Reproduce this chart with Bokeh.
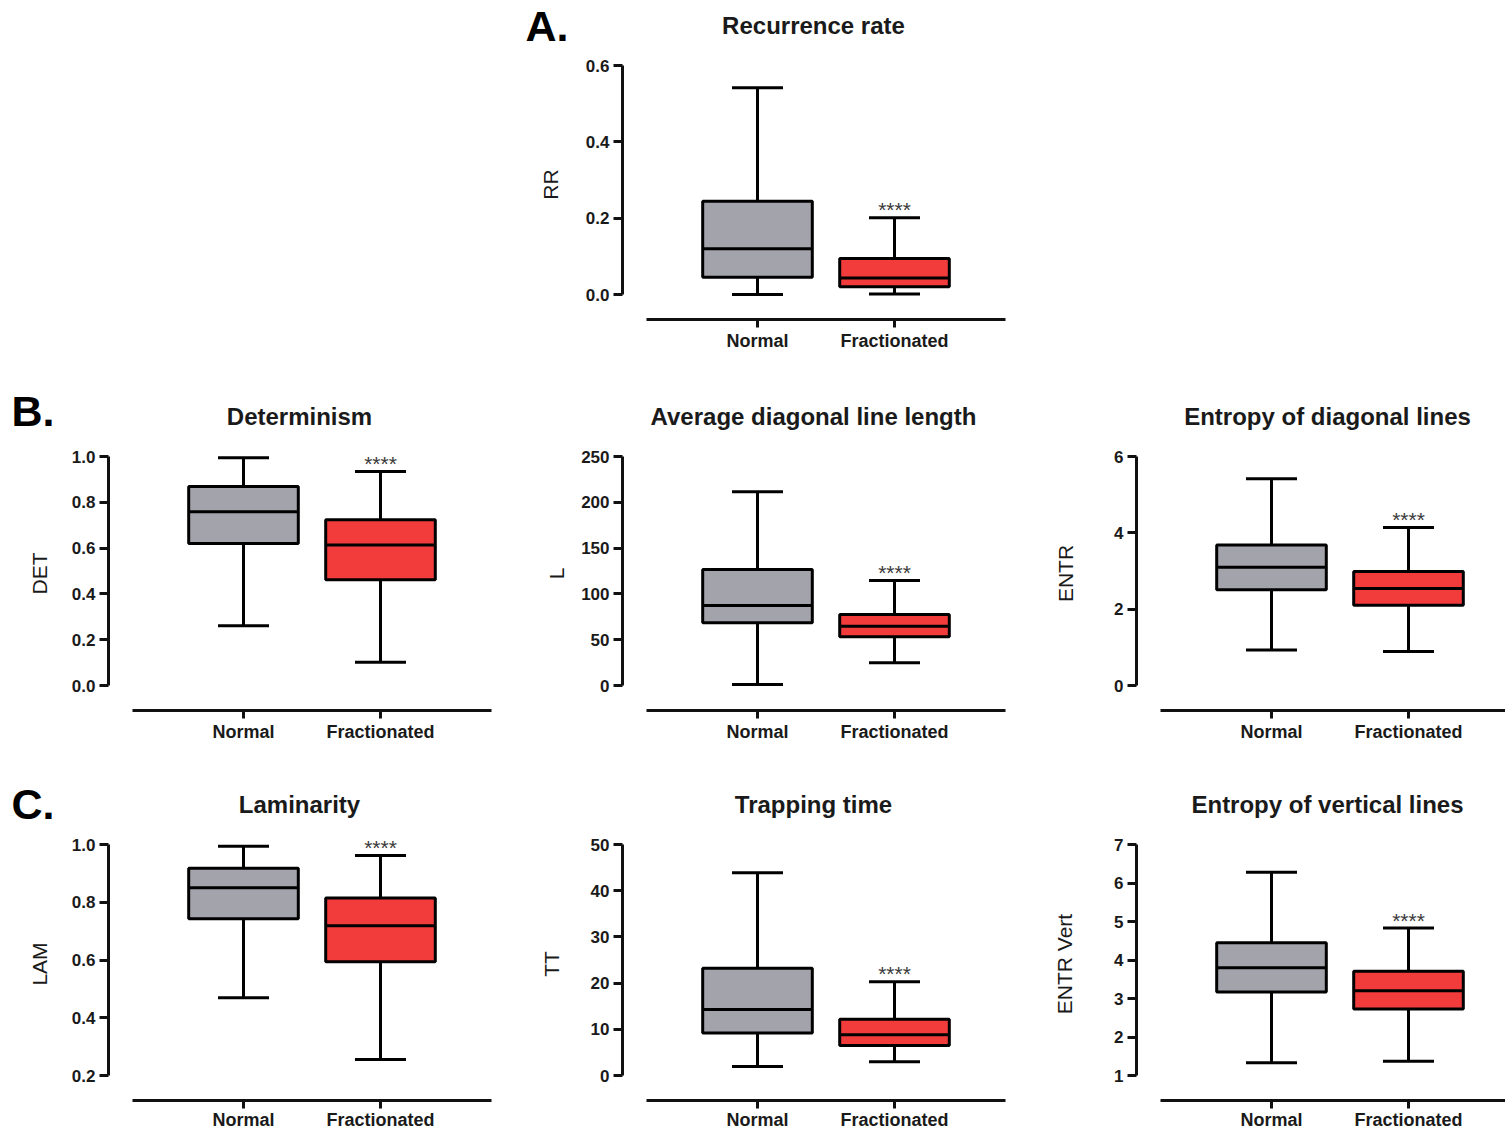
from bokeh.plotting import figure
from bokeh.models import (ColumnDataSource, Range1d, FixedTicker, PrintfTickFormatter,
                          Whisker, TeeHead, Spacer)
from bokeh.layouts import row, column
from bokeh.transform import dodge
from bokeh.core.properties import value
from bokeh.embed import file_html
from bokeh.resources import INLINE

# ---------------- data ----------------
CATEGORIES = ["Normal", "Fractionated"]
SIGNIFICANCE = ["", "****"]
BOX_COLORS = ["#a3a3ab", "#f23c3c"]

# five-number summaries: [min, Q1, median, Q3, max]
RR_NORMAL = [0.000, 0.045, 0.120, 0.244, 0.542]
RR_FRACT = [0.001, 0.020, 0.043, 0.094, 0.201]
RR_TICKS = [0.0, 0.2, 0.4, 0.6]

DET_NORMAL = [0.261, 0.620, 0.759, 0.869, 0.994]
DET_FRACT = [0.102, 0.462, 0.614, 0.724, 0.934]
DET_TICKS = [0.0, 0.2, 0.4, 0.6, 0.8, 1.0]

L_NORMAL = [1.1, 68.4, 87.3, 126.6, 211.5]
L_FRACT = [24.8, 53.2, 64.8, 77.5, 114.6]
L_TICKS = [0, 50, 100, 150, 200, 250]

ENTR_NORMAL = [0.93, 2.51, 3.10, 3.68, 5.42]
ENTR_FRACT = [0.89, 2.10, 2.54, 2.99, 4.14]
ENTR_TICKS = [0, 2, 4, 6]

LAM_NORMAL = [0.469, 0.743, 0.850, 0.918, 0.994]
LAM_FRACT = [0.255, 0.594, 0.719, 0.815, 0.962]
LAM_TICKS = [0.2, 0.4, 0.6, 0.8, 1.0]

TT_NORMAL = [1.95, 9.2, 14.3, 23.2, 43.9]
TT_FRACT = [3.0, 6.5, 8.8, 12.2, 20.3]
TT_TICKS = [0, 10, 20, 30, 40, 50]

ENTRV_NORMAL = [1.33, 3.17, 3.80, 4.45, 6.28]
ENTRV_FRACT = [1.37, 2.73, 3.20, 3.71, 4.83]
ENTRV_TICKS = [1, 2, 3, 4, 5, 6, 7]

PANEL_LETTERS = ["A.", "B.", "C."]
TITLES_A = ["Recurrence rate"]
TITLES_B = ["Determinism", "Average diagonal line length", "Entropy of diagonal lines"]
TITLES_C = ["Laminarity", "Trapping time", "Entropy of vertical lines"]

# ---------------- layout / style ----------------
FONT = "Liberation Sans"
INK = "#1a1a1a"
PX_PER_CAT = 137.0
CAT0_PX = 135.0
XLINE_START_PX = 24.0
XLINE_END_PX = 383.0
LEFT_BORDER = 101
W1, W3 = 514, 470
HEADER_W = 2 * W1 + W3
TITLE_X_IN_COL = 292
LETTER_X_IN_COL = 4


def header(height, titles, first_col, title_y, letter, letter_y):
    h = figure(width=HEADER_W, height=height, x_range=Range1d(0, HEADER_W),
               y_range=Range1d(height, 0), output_backend="svg",
               toolbar_location=None, x_axis_location=None, y_axis_location=None,
               min_border=0, min_border_left=0, min_border_right=0,
               min_border_top=0, min_border_bottom=0)
    h.outline_line_color = None
    h.grid.visible = False
    h.background_fill_color = "white"
    h.border_fill_color = "white"
    xs = [(first_col + i) * W1 + TITLE_X_IN_COL for i in range(len(titles))]
    h.text(x=xs, y=[title_y] * len(titles), text=titles, text_align="center",
           text_baseline="middle", text_font=value(FONT), text_font_size="24px",
           text_font_style="bold", text_color=INK)
    h.text(x=[first_col * W1 + LETTER_X_IN_COL], y=[letter_y],
           text=[letter], text_align="left",
           text_baseline="middle", text_font=value(FONT), text_font_size="43px",
           text_font_style="bold", text_color="black")
    return h


def make_panel(ylabel, normal, fract, ticks, fmt, width, height, top,
               span_px, above_px, below_px, label_standoff, xlabel_standoff=3):
    frame_w = min(383, width - LEFT_BORDER)
    frame_h = int(span_px + above_px + below_px)
    lo, hi = ticks[0], ticks[-1]
    upp = (hi - lo) / span_px
    x_range = Range1d(-CAT0_PX / PX_PER_CAT, (frame_w - CAT0_PX) / PX_PER_CAT)
    y_range = Range1d(lo - below_px * upp, hi + above_px * upp)

    p = figure(width=width, height=height, x_range=x_range, y_range=y_range,
               output_backend="svg", toolbar_location=None,
               min_border_left=LEFT_BORDER,
               min_border_right=width - LEFT_BORDER - frame_w,
               min_border_top=top,
               min_border_bottom=height - top - frame_h)
    p.outline_line_color = None
    p.xgrid.visible = False
    p.ygrid.visible = False
    p.background_fill_color = "white"
    p.border_fill_color = "white"

    src = ColumnDataSource(dict(
        x=list(range(len(CATEGORIES))),
        lo=[normal[0], fract[0]],
        q1=[normal[1], fract[1]],
        med=[normal[2], fract[2]],
        q3=[normal[3], fract[3]],
        hi=[normal[4], fract[4]],
        color=BOX_COLORS,
        sig=SIGNIFICANCE,
    ))

    whisk = Whisker(source=src, base="x", lower="lo", upper="hi", dimension="height",
                    line_width=3, line_color="black", level="underlay",
                    upper_head=TeeHead(size=51, line_width=3, line_color="black"),
                    lower_head=TeeHead(size=51, line_width=3, line_color="black"))
    p.add_layout(whisk)

    p.vbar(x="x", width=0.8, bottom="q1", top="q3", source=src,
           fill_color="color", line_color="black", line_width=3)
    p.segment(x0=dodge("x", -0.4), y0="med", x1=dodge("x", 0.4), y1="med",
              source=src, line_color="black", line_width=3)
    p.text(x="x", y="hi", text="sig", source=src, y_offset=-8,
           text_align="center", text_baseline="alphabetic",
           text_font=value(FONT), text_font_size="21px", text_color="#3a3a3a")

    # y axis
    ya = p.yaxis[0]
    ya.ticker = FixedTicker(ticks=ticks)
    ya.formatter = PrintfTickFormatter(format=fmt)
    ya.bounds = (lo, hi)
    ya.axis_line_width = 3
    ya.axis_line_color = "#111111"
    ya.major_tick_line_width = 3
    ya.major_tick_line_color = "#111111"
    ya.major_tick_out = 9
    ya.major_tick_in = 0
    ya.minor_tick_line_color = None
    ya.major_label_text_font = FONT
    ya.major_label_text_font_size = "17px"
    ya.major_label_text_font_style = "bold"
    ya.major_label_text_color = INK
    ya.major_label_standoff = 4
    ya.axis_label = ylabel
    ya.axis_label_text_font = FONT
    ya.axis_label_text_font_size = "21px"
    ya.axis_label_text_font_style = "normal"
    ya.axis_label_text_color = INK
    ya.axis_label_standoff = label_standoff

    # x axis
    xa = p.xaxis[0]
    xa.ticker = FixedTicker(ticks=list(range(len(CATEGORIES))))
    xa.major_label_overrides = {i: c for i, c in enumerate(CATEGORIES)}
    xa.bounds = ((XLINE_START_PX - CAT0_PX) / PX_PER_CAT,
                 (min(XLINE_END_PX, frame_w) - CAT0_PX) / PX_PER_CAT)
    xa.axis_line_width = 3
    xa.axis_line_color = "#111111"
    xa.major_tick_line_width = 3
    xa.major_tick_line_color = "#111111"
    xa.major_tick_out = 8
    xa.major_tick_in = 0
    xa.minor_tick_line_color = None
    xa.major_label_text_font = FONT
    xa.major_label_text_font_size = "18px"
    xa.major_label_text_font_style = "bold"
    xa.major_label_text_color = INK
    xa.major_label_standoff = xlabel_standoff
    return p


# headers (letters + panel titles)
hA = header(49, TITLES_A, 1, 25, PANEL_LETTERS[0], 25)
hB = header(51, TITLES_B, 0, 32, PANEL_LETTERS[1], 26)
hC = header(53, TITLES_C, 0, 30, PANEL_LETTERS[2], 29)

# Row A
pA = make_panel("RR", RR_NORMAL, RR_FRACT, RR_TICKS, "%.1f", W1, 335, 0, 229, 16, 25, 21)

# Row B
pB1 = make_panel("DET", DET_NORMAL, DET_FRACT, DET_TICKS, "%.1f", W1, 339, 1, 229, 20, 25, 18)
pB2 = make_panel("L", L_NORMAL, L_FRACT, L_TICKS, "%d", W1, 339, 1, 229, 20, 25, 10)
pB3 = make_panel("ENTR", ENTR_NORMAL, ENTR_FRACT, ENTR_TICKS, "%d", W3, 339, 1, 229, 20, 25, 34)

# Row C
pC1 = make_panel("LAM", LAM_NORMAL, LAM_FRACT, LAM_TICKS, "%.1f", W1, 306, 0, 231, 17, 25, 18, 1)
pC2 = make_panel("TT", TT_NORMAL, TT_FRACT, TT_TICKS, "%d", W1, 306, 0, 231, 17, 25, 25, 1)
pC3 = make_panel("ENTR Vert", ENTRV_NORMAL, ENTRV_FRACT, ENTRV_TICKS, "%d", W3, 306, 0, 231, 17, 25, 35, 1)

layout = column(
    row(Spacer(width=7, height=49), hA),
    row(Spacer(width=7 + W1, height=335), pA),
    row(Spacer(width=7, height=51), hB),
    row(Spacer(width=7, height=339), pB1, pB2, pB3),
    row(Spacer(width=7, height=53), hC),
    row(Spacer(width=7, height=306), pC1, pC2, pC3),
)

open("out.html", "w").write(file_html(layout, INLINE))
